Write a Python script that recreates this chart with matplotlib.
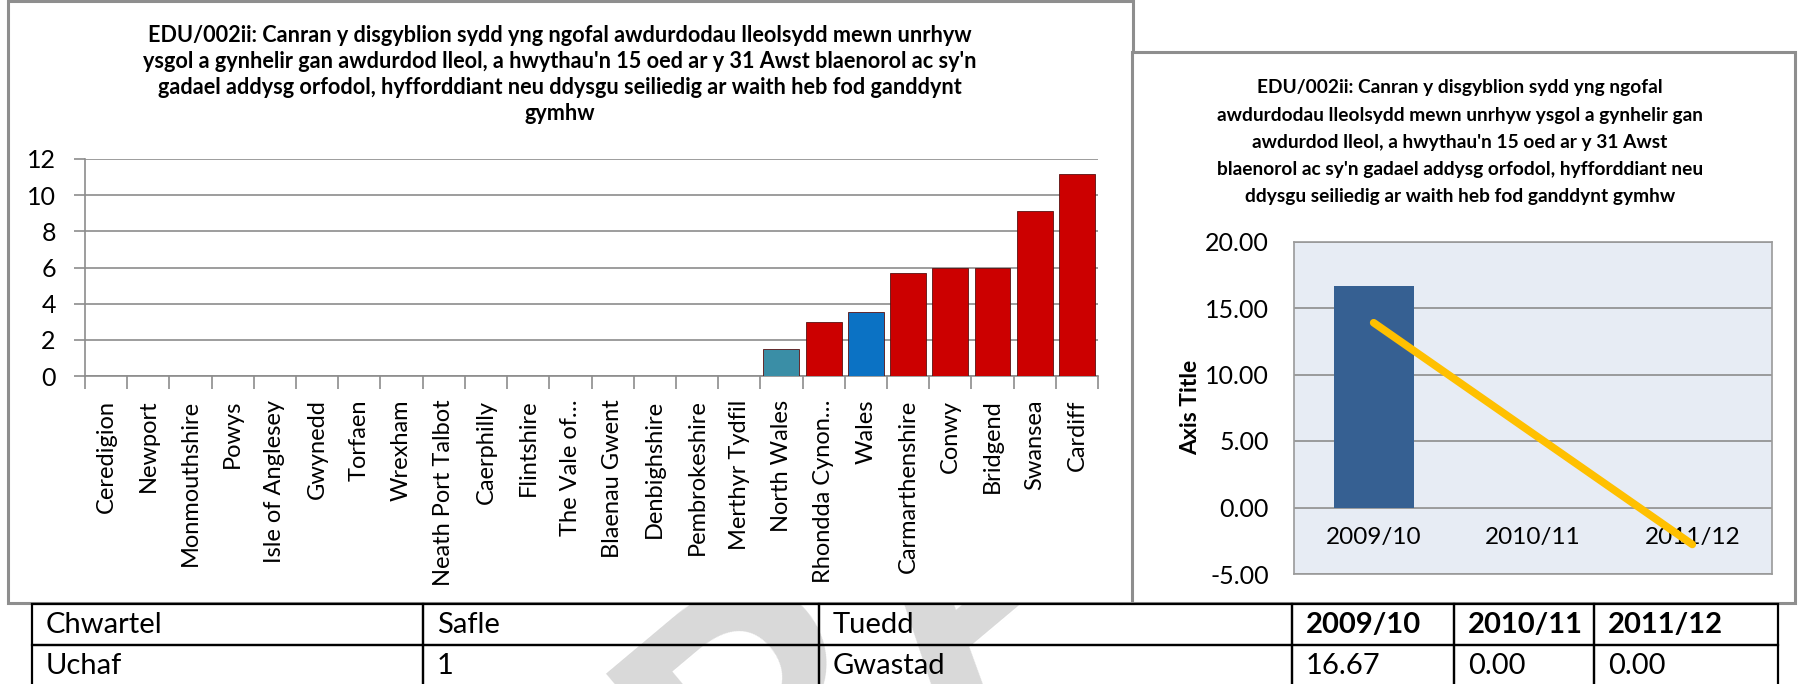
import matplotlib
matplotlib.use("Agg")
import matplotlib.pyplot as plt
import numpy as np
from matplotlib.patches import Rectangle
from matplotlib.ticker import FormatStrFormatter

plt.rcParams["font.family"] = ["Lato", "DejaVu Sans"]

# --- data -------------------------------------------------------------
areas = [
    "Ceredigion", "Newport", "Monmouthshire", "Powys", "Isle of Anglesey",
    "Gwynedd", "Torfaen", "Wrexham", "Neath Port Talbot", "Caerphilly",
    "Flintshire", "The Vale of…", "Blaenau Gwent", "Denbighshire",
    "Pembrokeshire", "Merthyr Tydfil", "North Wales", "Rhondda Cynon…",
    "Wales", "Carmarthenshire", "Conwy", "Bridgend", "Swansea", "Cardiff",
]
area_values = [
    0, 0, 0, 0, 0, 0, 0, 0, 0, 0, 0, 0, 0, 0, 0, 0,
    1.5, 3.0, 3.55, 5.7, 5.95, 5.95, 9.1, 11.15,
]
highlight = {"North Wales": "#3A8EA6", "Wales": "#0B72C4"}

years = ["2009/10", "2010/11", "2011/12"]
year_values = [16.67, 0.00, 0.00]

table_header = ["Chwartel", "Safle", "Tuedd", "2009/10", "2010/11", "2011/12"]
table_row = ["Uchaf", "1", "Gwastad", "16.67", "0.00", "0.00"]

left_title = [
    "EDU/002ii: Canran y disgyblion sydd yng ngofal awdurdodau lleolsydd mewn unrhyw",
    "ysgol a gynhelir gan awdurdod lleol, a hwythau'n 15 oed ar y 31 Awst blaenorol ac sy'n",
    "gadael addysg orfodol, hyfforddiant neu ddysgu seiliedig ar waith heb fod ganddynt",
    "gymhw",
]
right_title = [
    "EDU/002ii: Canran y disgyblion sydd yng ngofal",
    "awdurdodau lleolsydd mewn unrhyw ysgol a gynhelir gan",
    "awdurdod lleol, a hwythau'n 15 oed ar y 31 Awst",
    "blaenorol ac sy'n gadael addysg orfodol, hyfforddiant neu",
    "ddysgu seiliedig ar waith heb fod ganddynt gymhw",
]

# --- layout helpers (pixel coords, origin top-left) -------------------
W, H = 1800, 684


def box(x0, y0, x1, y1):
    return [x0 / W, 1 - y1 / H, (x1 - x0) / W, (y1 - y0) / H]


fig = plt.figure(figsize=(18, 6.84), dpi=100)

# faint watermark, mostly hidden behind the chart panels
fig.text(945 / W, 1 - 585 / H, "DRAFT", fontsize=280, fontweight="bold",
         color="#D9D9D9", rotation=40, ha="center", va="center", zorder=0.5)

# chart panel frames
for x0, y0, x1, y1 in [(8, 1, 1133, 603), (1132, 52, 1795, 603)]:
    fig.add_artist(Rectangle((x0 / W, 1 - y1 / H), (x1 - x0) / W, (y1 - y0) / H,
                             transform=fig.transFigure, facecolor="white",
                             edgecolor="#8E8E8E", linewidth=2.2, zorder=1))

# --- left: bar chart by area -----------------------------------------
ax1 = fig.add_axes(box(85, 159, 1098, 376))
ax1.set_zorder(2)
x = np.arange(len(areas))
colors = [highlight.get(a, "#CC0000") for a in areas]
ax1.bar(x, area_values, width=0.85, color=colors, edgecolor="#5A1010",
        linewidth=0.6, zorder=3)
ax1.set_xlim(-0.5, len(areas) - 0.5)
ax1.set_ylim(0, 12)
ax1.set_yticks(np.arange(0, 13, 2))
ax1.yaxis.grid(True, color="#8C8C8C", linewidth=1.2)
ax1.set_axisbelow(True)
for s in ["top", "right"]:
    ax1.spines[s].set_visible(False)
for s in ["left", "bottom"]:
    ax1.spines[s].set_color("#8C8C8C")
    ax1.spines[s].set_linewidth(1.2)
ax1.set_xticks(x)
ax1.set_xticklabels(areas, rotation=90)
ax1.set_xticks(np.arange(-0.5, len(areas), 1), minor=True)
ax1.tick_params(axis="x", which="major", length=0, pad=17, labelsize=17)
ax1.tick_params(axis="x", which="minor", length=9, width=1.2, color="#8C8C8C")
ax1.tick_params(axis="y", length=8, width=1.2, color="#8C8C8C", pad=13,
                labelsize=18)

for i, line in enumerate(left_title):
    fig.text(560 / W, 1 - (35 + i * 26) / H, line, ha="center", va="center",
             fontsize=15.6, fontweight="bold", zorder=3)

# --- right: yearly bar + trend ---------------------------------------
ax2 = fig.add_axes(box(1294, 241.5, 1772, 574))
ax2.set_zorder(2)
ax2.set_facecolor("#E7ECF4")
xr = np.arange(len(years))
ax2.bar(xr, year_values, width=0.5, color="#366092", zorder=2)
slope, intercept = np.polyfit(xr, year_values, 1)
ends = xr[[0, -1]]
ax2.plot(ends, intercept + slope * ends, color="#FFC000", linewidth=5.5,
         solid_capstyle="round", zorder=3)
ax2.set_xlim(-0.5, len(years) - 0.5)
ax2.set_ylim(-5, 20)
ax2.set_yticks(np.arange(-5, 21, 5))
ax2.yaxis.set_major_formatter(FormatStrFormatter("%.2f"))
ax2.yaxis.grid(True, color="#8C8C8C", linewidth=1.2)
ax2.set_axisbelow(True)
for s in ax2.spines.values():
    s.set_color("#9A9A9A")
    s.set_linewidth(1.2)
ax2.set_xticks([])
ax2.tick_params(axis="y", length=0, pad=18, labelsize=18)
ax2.set_ylabel("Axis Title", fontsize=16.5, fontweight="bold")
ax2.yaxis.set_label_coords(-0.195, 0.5)

lo, hi = ax2.get_ylim()
sec = ax2.secondary_xaxis((0 - lo) / (hi - lo))
sec.set_xticks(xr)
sec.set_xticklabels(years)
sec.tick_params(length=0, pad=14, labelsize=17.5)
for s in sec.spines.values():
    s.set_visible(False)

for i, line in enumerate(right_title):
    fig.text(1460 / W, 1 - (88 + i * 27.2) / H, line, ha="center", va="center",
             fontsize=13.8, fontweight="bold", zorder=3)

# --- table -------------------------------------------------------------
col_edges = np.array([32, 423, 819, 1292, 1454, 1594, 1778])
tax = fig.add_axes(box(col_edges[0], 604, col_edges[-1], 686))
tax.set_zorder(2)
tax.axis("off")
col_px = np.diff(col_edges)
tbl = tax.table(cellText=[table_row], colLabels=table_header,
                colWidths=col_px / col_px.sum(), cellLoc="left",
                colLoc="left", bbox=[0, 0, 1, 1])
tbl.auto_set_font_size(False)
tbl.set_fontsize(21)
for (r, c), cell in tbl.get_celld().items():
    cell.set_facecolor("none")
    cell.set_edgecolor("black")
    cell.set_linewidth(1.6)
    cell.PAD = 14 / col_px[c]
    if r == 0 and c >= 3:
        cell.get_text().set_fontweight("bold")

fig.savefig("out.png", dpi=100)
plt.close(fig)
